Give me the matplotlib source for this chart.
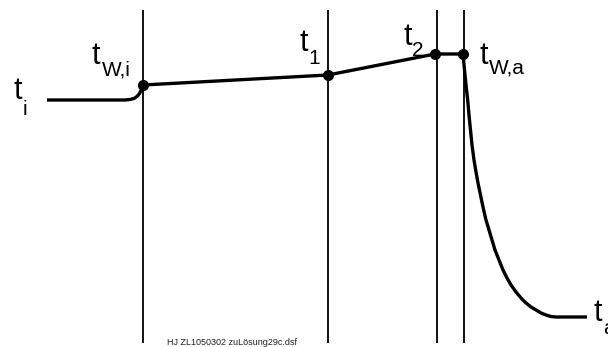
import matplotlib
matplotlib.use("Agg")
import matplotlib.pyplot as plt

# ===============================
# Data (picture coordinates, y downwards)
# ===============================

wall_x = [143, 328, 437, 464]
wall_top = 10
wall_bottom = 343

# interface temperatures (dots)
node_x = [143, 328, 435, 463]
node_y = [85, 75, 54, 54]

# inner boundary layer: flat fluid temperature bending into the wall
inner_x = [47, 125, 130, 134, 137, 139.5, 141.5, 143]
inner_y = [100, 100, 99.5, 98.5, 96.5, 93.5, 89.5, 85]

# outer boundary layer: steep drop to ambient temperature
outer_x = [463, 464.5, 466, 467.7, 469, 470.5, 472, 474, 476, 478, 480.5, 483,
           486, 489, 492, 495, 499, 503, 507, 511, 516, 521, 526, 531, 536,
           541, 546, 551, 556, 587]
outer_y = [54, 70, 85, 100, 115, 130, 145, 160, 172, 183, 195, 207,
           220, 230, 240, 250, 260, 270, 278, 285, 292, 298, 303, 307, 310,
           313, 315, 316.5, 317, 317]

# labels: main letter and subscript
subs = ["i", "W,i", "1", "2", "W,a", "a"]
label_x = [14, 92, 299, 403, 480, 594]
label_y = [99, 64, 51, 45, 64, 321]
sub_x = [23, 102, 308, 412, 489, 603]
sub_y = [115, 75, 64, 56, 73, 334]

footer = "HJ ZL1050302 zuLösung29c.dsf"

# ===============================
# Plot
# ===============================

plt.rcParams["font.family"] = "Liberation Sans"

fig = plt.figure(figsize=(6.08, 3.47), dpi=100)
ax = fig.add_axes([0, 0, 1, 1])
ax.set_xlim(0, 608)
ax.set_ylim(347, 0)
ax.axis("off")

ax.vlines(wall_x, wall_top, wall_bottom, color="black", lw=1.3)

ax.plot(inner_x, inner_y, color="black", lw=2.4, solid_capstyle="butt")
ax.plot(node_x, node_y, color="black", lw=2.4)
ax.plot(outer_x, outer_y, color="black", lw=2.4, solid_capstyle="butt",
        solid_joinstyle="round")
ax.plot(node_x, node_y, "o", color="black", ms=7)

for s, x, y, sx, sy in zip(subs, label_x, label_y, sub_x, sub_y):
    ax.text(x, y, "t", fontsize=22, ha="left", va="baseline")
    ax.text(sx, sy, s, fontsize=15, ha="left", va="baseline")

ax.text(232, 345, footer, fontsize=6.5, ha="center", va="baseline", color="#222222")

fig.savefig("out.png", dpi=100)
